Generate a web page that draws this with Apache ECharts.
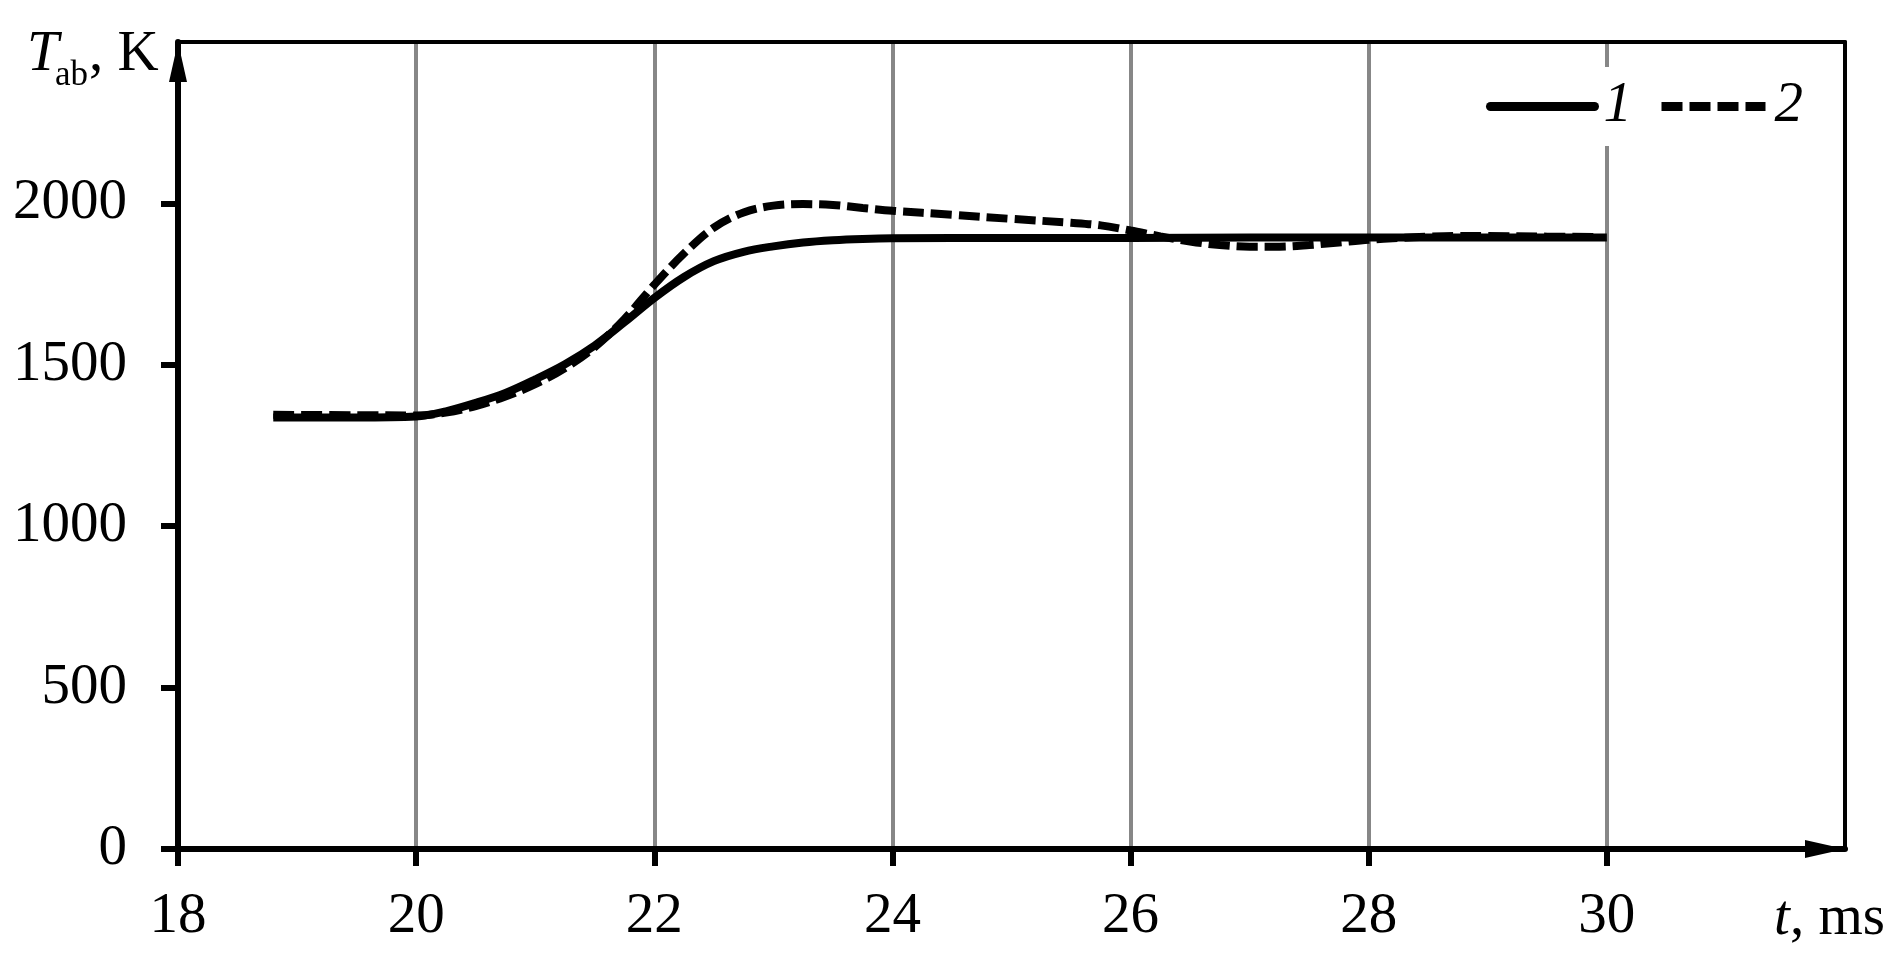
<!DOCTYPE html>
<html>
<head>
<meta charset="utf-8">
<script src="https://cdn.jsdelivr.net/npm/echarts@6/dist/echarts.min.js"></script>
<style>
html,body{margin:0;padding:0;background:#fff;}
#chart{width:1901px;height:956px;}
</style>
</head>
<body>
<div id="chart"></div>
<script>
// Curve 1 (solid)
const t1 = [18.8, 19.5, 20.0, 20.25, 20.5, 20.75, 21.0, 21.25, 21.5, 21.75, 22.0, 22.25, 22.5, 22.75, 23.0, 23.25, 23.5, 23.75, 24.0, 25.0, 26.0, 27.0, 28.0, 29.0, 30.0];
const T1 = [1337, 1337, 1340, 1356, 1382, 1413, 1455, 1502, 1560, 1632, 1707, 1772, 1821, 1850, 1867, 1879, 1886, 1890, 1892, 1893, 1893, 1894, 1894, 1894, 1894];
// Curve 2 (dashed)
const t2 = [18.8, 19.5, 20.0, 20.25, 20.5, 20.75, 21.0, 21.25, 21.5, 21.75, 22.0, 22.25, 22.5, 22.75, 23.0, 23.25, 23.5, 23.75, 24.0, 24.5, 25.0, 25.5, 25.75, 26.0, 26.25, 26.5, 26.75, 27.0, 27.25, 27.5, 27.75, 28.0, 28.25, 28.5, 28.75, 29.0, 29.5, 29.9];
const T2 = [1345, 1344, 1343, 1352, 1372, 1402, 1440, 1490, 1555, 1642, 1748, 1845, 1925, 1972, 1993, 1998, 1995, 1986, 1977, 1965, 1952, 1940, 1932, 1916, 1898, 1882, 1871, 1866, 1866, 1871, 1879, 1887, 1893, 1897, 1899, 1899, 1897, 1896];
const seriesNames = ['1', '2'];
const xTicks = [18, 20, 22, 24, 26, 28, 30];
const yTicks = [0, 500, 1000, 1500, 2000];

const FONT = '"Liberation Serif", "Times New Roman", serif';
const chart = echarts.init(document.getElementById('chart'));
const zip = (a, b) => a.map((v, i) => [v, b[i]]);

chart.setOption({
  animation: false,
  backgroundColor: '#fff',
  grid: { left: 178, right: 56, top: 42, bottom: 107, containLabel: false },
  xAxis: [{
    type: 'value', min: 18, max: 32, interval: 2,
    axisLine: { show: true, onZero: false, lineStyle: { color: '#000', width: 6 },
      symbol: ['none', 'triangle'], symbolSize: [18, 40], symbolOffset: [0, -20] },
    axisTick: { show: true, length: 17, inside: false, customValues: xTicks, lineStyle: { color: '#000', width: 6 } },
    axisLabel: { show: true, margin: 40, customValues: xTicks,
      formatter: v => (v <= 30 ? String(v) : ''),
      color: '#000', fontFamily: FONT, fontSize: 57 },
    splitLine: { show: true, lineStyle: { color: '#878787', width: 4 } }
  }, {
    type: 'value', min: 18, max: 32, position: 'top', z: 5,
    axisLine: { show: true, onZero: false, lineStyle: { color: '#000', width: 4 } },
    axisTick: { show: false }, axisLabel: { show: false }, splitLine: { show: false }
  }],
  yAxis: [{
    type: 'value', min: 0, max: 2500, interval: 500,
    axisLine: { show: true, onZero: false, lineStyle: { color: '#000', width: 6 },
      symbol: ['none', 'triangle'], symbolSize: [18, 40], symbolOffset: [0, -20] },
    axisTick: { show: true, length: 17, inside: false, customValues: yTicks, lineStyle: { color: '#000', width: 6 } },
    axisLabel: { show: true, margin: 51, customValues: yTicks,
      formatter: v => (v <= 2000 ? String(v) : ''),
      color: '#000', fontFamily: FONT, fontSize: 57 },
    splitLine: { show: false }
  }, {
    type: 'value', min: 0, max: 2500, position: 'right', z: 5,
    axisLine: { show: true, onZero: false, lineStyle: { color: '#000', width: 4 } },
    axisTick: { show: false }, axisLabel: { show: false }, splitLine: { show: false }
  }],
  legend: {
    left: 1474, top: 67, padding: [11, 12],
    backgroundColor: '#fff',
    itemWidth: 104, itemHeight: 20, itemGap: 25,
    itemStyle: { opacity: 0, borderWidth: 0 },
    textStyle: { color: '#000', fontFamily: FONT, fontSize: 57, fontStyle: 'italic', lineHeight: 57, padding: [0, 0, 0, 4] },
    data: [
      { name: seriesNames[0], lineStyle: { width: 9, cap: 'round' } },
      { name: seriesNames[1], lineStyle: { width: 9 } }
    ]
  },
  graphic: [
    { type: 'text', x: 27, y: 54.6, style: { text: 'T', font: 'italic 57px ' + FONT, fill: '#000', verticalAlign: 'middle' } },
    { type: 'text', x: 55, y: 76.3, style: { text: 'ab', font: '35px ' + FONT, fill: '#000', verticalAlign: 'middle' } },
    { type: 'text', x: 89, y: 54.6, style: { text: ', K', font: '57px ' + FONT, fill: '#000', verticalAlign: 'middle' } },
    { type: 'text', x: 1774, y: 918.6, style: { text: 't', font: 'italic 57px ' + FONT, fill: '#000', verticalAlign: 'middle' } },
    { type: 'text', x: 1790, y: 918.6, style: { text: ', ms', font: '57px ' + FONT, fill: '#000', verticalAlign: 'middle' } }
  ],
  series: [{
    name: seriesNames[0], type: 'line', data: zip(t1, T1),
    symbol: 'none', smooth: 0.35, z: 3,
    lineStyle: { color: '#000', width: 8, type: 'solid' }, itemStyle: { color: '#000' }
  }, {
    name: seriesNames[1], type: 'line', data: zip(t2, T2),
    symbol: 'none', smooth: 0.35, z: 3,
    lineStyle: { color: '#000', width: 8, type: [21, 7], cap: 'butt' }, itemStyle: { color: '#000' }
  }]
});
</script>
</body>
</html>
